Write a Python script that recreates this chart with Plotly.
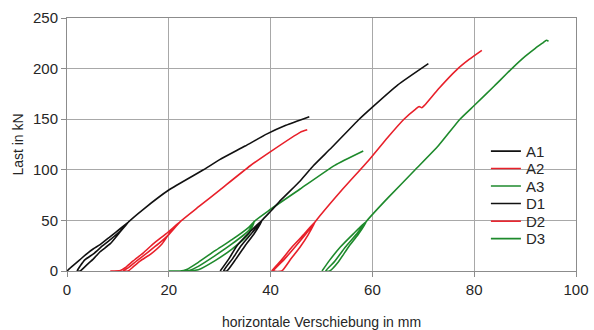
import plotly.graph_objects as go

# ---- data ----
series_names = ["A1", "A2", "A3", "D1", "D2", "D3"]
series_colors = ["#111111", "#e8202a", "#1e8a2c", "#111111", "#e8202a", "#1e8a2c"]

a1_x = [0, 1.0, 2.5, 4.0, 5.2, 6.5, 8.5, 10.5, 12.2,
        10.5, 8.5, 6.5, 5.2, 4.0, 2.6,
        2.0, 3.5, 5.2, 7.0, 8.5, 10.5, 12.2,
        15, 20, 26.8, 30, 35, 39.3, 43, 47.6]
a1_y = [0, 4.5, 11, 17.5, 22, 26, 34, 42, 49,
        39, 27, 19, 12, 6.5, 0,
        0, 11, 17, 25, 31, 39.5, 49,
        61, 80, 100, 110, 123.5, 135.5, 144, 152.5]

a2_x = [8.5, 10.5, 11.5, 13.0, 15.0, 17.0, 19.5, 22.3,
        20.5, 18.7, 16.5, 14.4, 13.0, 12.0,
        11.0, 12.0, 13.7, 16.0, 18.0, 20.0, 22.3,
        26, 30, 36, 40, 45.8, 47.2]
a2_y = [0, 0.5, 3.5, 10, 18, 27, 37, 49,
        40, 27, 17, 10, 4, 0,
        0, 3, 10, 19, 27, 36, 49,
        64, 80, 104, 118, 137, 139.5]

a3_x = [20.0, 22.2, 23.5, 25.8, 29.1, 32.4, 35.7, 36.8,
        35.7, 32.4, 29.1, 25.8, 23.5,
        22.5, 24.0, 25.8, 29.1, 32.4, 35.7, 36.8,
        40, 45.8, 52.6, 58.2]
a3_y = [0, 0, 1.5, 8.6, 20.1, 31, 43.2, 49,
        36.6, 21.7, 10.3, 1.3, 0,
        0, 0.5, 4.6, 15.2, 26.7, 39.9, 49,
        61, 81, 104.4, 118.6]

d1_x = [30.1, 31.8, 33.4, 36.0, 38.3,
        36.8, 35.0, 33.2, 31.4,
        30.75, 32.5, 34.2, 36.4, 38.3,
        40.2, 42, 45.8, 48.4, 52, 57.4, 60, 65, 71]
d1_y = [0, 12, 25, 39, 50,
        37, 25, 12, 0,
        0, 12, 25, 38, 50,
        60, 70, 89, 104, 122, 150, 162, 184, 205]

d2_x = [40.2, 42.0, 44.2, 46.5, 48.8,
        47.4, 45.8, 44.0, 42.2,
        40.6, 42.6, 44.8, 47.0, 48.8,
        54, 59.2, 63, 66.2, 68.5, 69.2, 69.7, 70.3, 73, 76.6, 79, 81.5]
d2_y = [0, 10, 23.7, 36, 49,
        36, 23.7, 12, 0,
        0, 11, 23.7, 37, 49,
        80, 109, 132, 150, 160, 162.5, 161.3, 164, 180, 199, 209, 218]

d3_x = [50.1, 51.5, 53.7, 56.3, 58.8,
        57.2, 55.3, 53.3, 51.6,
        50.8, 52.5, 54.7, 56.8, 58.8,
        63, 68.4, 73, 77.2, 80, 84, 87.4, 90, 92, 93.5, 94.2, 94.6]
d3_y = [0, 10, 23.7, 37, 49,
        36, 23.7, 9, 0,
        0, 9, 23.7, 36, 49,
        72, 100, 124, 150, 163.5, 183, 200, 212, 220, 225.5, 228, 227]

x_tick_vals = [0, 20, 40, 60, 80, 100]
y_tick_vals = [0, 50, 100, 150, 200, 250]
x_title = "horizontale Verschiebung in mm"
y_title = "Last in kN"

xs = [a1_x, a2_x, a3_x, d1_x, d2_x, d3_x]
ys = [a1_y, a2_y, a3_y, d1_y, d2_y, d3_y]

FONT = "Liberation Sans, Arial, sans-serif"
TXT = "#262626"
fig = go.Figure()
legend_ids = ["legend", "legend2", "legend3", "legend4", "legend5", "legend6"]
for name, color, x, y, lg in zip(series_names, series_colors, xs, ys, legend_ids):
    fig.add_trace(go.Scatter(x=x, y=y, mode="lines", name=name, legend=lg,
                             line=dict(color=color, width=1.6, shape="spline", smoothing=0.5)))

axis_common = dict(showgrid=True, gridcolor="#a8a8a8", gridwidth=1,
                   showline=True, linecolor="#8c8c8c", linewidth=1, mirror=True,
                   zeroline=False, ticks="outside", ticklen=5, tickcolor="#8c8c8c",
                   automargin=False,
                   tickfont=dict(family=FONT, size=15, color=TXT))

layout_legends = {}
legend_y = [0.473, 0.404, 0.335, 0.266, 0.196, 0.127]
for lg, yy in zip(legend_ids, legend_y):
    layout_legends[lg] = dict(x=0.823, y=yy, xanchor="left", yanchor="middle",
                              bgcolor="rgba(0,0,0,0)", borderwidth=0,
                              font=dict(family=FONT, size=15, color=TXT),
                              itemwidth=30)

# white patch behind the legend (hides the gridlines there, as in the reference)
fig.add_shape(type="rect", xref="paper", yref="paper",
              x0=0.835, x1=0.952, y0=0.09, y1=0.51,
              fillcolor="white", line=dict(width=0), layer="between")

fig.update_layout(
    width=594, height=330,
    margin=dict(l=67, r=18, t=18, b=59, autoexpand=False),
    paper_bgcolor="white", plot_bgcolor="white",
    font=dict(family=FONT, size=14, color=TXT),
    xaxis=dict(range=[0, 100], tickvals=x_tick_vals,
               title=dict(text=x_title, font=dict(family=FONT, size=14, color=TXT), standoff=20),
               **axis_common),
    yaxis=dict(range=[0, 250], tickvals=y_tick_vals,
               title=dict(text=y_title, font=dict(family=FONT, size=14, color=TXT), standoff=6),
               **axis_common),
    showlegend=True,
    **layout_legends,
)

fig.write_html("out.html")
